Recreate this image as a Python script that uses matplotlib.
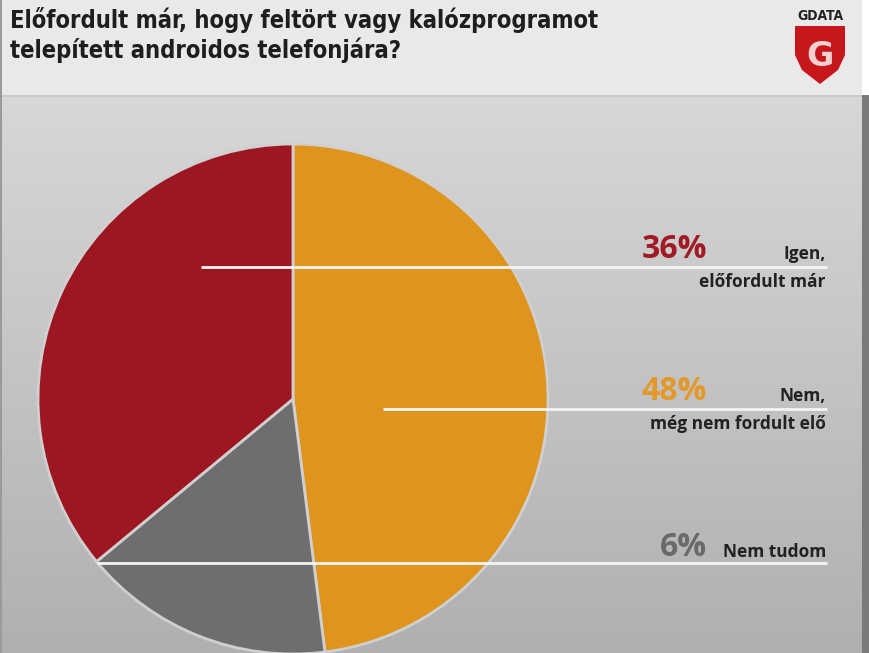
import matplotlib
matplotlib.use("Agg")
import matplotlib.pyplot as plt
import numpy as np
from matplotlib.patches import Polygon

# ---- data ----
categories = ["Nem, még nem fordult elő", "Nem tudom", "Igen, előfordult már"]
values = [48, 16, 36]                     # wedge sizes as drawn
colors = ["#de941d", "#6e6e70", "#9c1721"]
pct_labels = ["36%", "48%", "6%"]
label_line1 = ["Igen,", "Nem,", "Nem tudom"]
label_line2 = ["előfordult már", "még nem fordult elő", ""]
pct_colors = ["#a11b25", "#e3992a", "#6a6a6a"]
title_lines = ["Előfordult már, hogy feltört vagy kalózprogramot",
               "telepített androidos telefonjára?"]

W, H = 870, 653
fig = plt.figure(figsize=(W / 100, H / 100), dpi=100)
ax = fig.add_axes([0, 0, 1, 1])
ax.set_xlim(0, W)
ax.set_ylim(0, H)
ax.set_aspect("equal")
ax.axis("off")

def py(y):  # pixel y (top origin) -> data y
    return H - y

# background gradient below header
grad = np.linspace(0, 1, 256)[:, None]
c_top = np.array([0.845, 0.845, 0.85])
c_bot = np.array([0.69, 0.69, 0.695])
img = c_top[None, None, :] * (1 - grad[:, :, None]) + c_bot[None, None, :] * grad[:, :, None]
ax.imshow(img, extent=[0, W, py(H), py(95)], aspect="auto", zorder=0, origin="upper")
# header
ax.fill_between([0, W], py(95), py(0), color="#e9e9e9", zorder=0.5, lw=0)
ax.fill_between([0, W], py(97), py(95), color="#c9c9c9", zorder=0.6, lw=0)
# side borders
ax.fill_between([862, W], 0, py(95), color="#7a7a7a", zorder=0.7, lw=0)
ax.fill_between([862, W], py(95), H, color="#ffffff", zorder=0.7, lw=0)
ax.fill_between([0, 2], 0, H, color="#9a9a9a", zorder=0.7, lw=0)

# pie
cx, cy, r = 293, py(399), 255
ax.pie(values, colors=colors, startangle=90, counterclock=False,
       center=(cx, cy), radius=r, frame=True,
       wedgeprops=dict(edgecolor="#d0d0d0", linewidth=2))
ax.set_xlim(0, W)
ax.set_ylim(0, H)
ax.axis("off")

# leader lines
line_y = [267, 409, 563]
line_x0 = [201, 383, 97]
for ly, lx in zip(line_y, line_x0):
    ax.plot([lx, 827], [py(ly), py(ly)], color="#f4f4f4", lw=2, zorder=5,
            solid_capstyle="butt")

# labels
pct_base = [258, 400, 556]
for i in range(3):
    ax.text(707, py(pct_base[i]), pct_labels[i], color=pct_colors[i],
            fontsize=23, fontweight="bold", family="Open Sans",
            ha="right", va="baseline", zorder=6)
    ax.text(826, py(pct_base[i] + 1), label_line1[i], color="#222222",
            fontsize=12.5, fontweight="bold", family="Open Sans",
            ha="right", va="baseline", zorder=6)
    if label_line2[i]:
        ax.text(826, py(pct_base[i] + 29), label_line2[i], color="#222222",
                fontsize=12.5, fontweight="bold", family="Open Sans",
                ha="right", va="baseline", zorder=6)

# title (condensed look)
ax.text(10, py(28), title_lines[0], fontsize=17, fontweight="bold",
        family="DejaVu Sans", stretch="condensed", color="#1e1e1e",
        ha="left", va="baseline", zorder=6)
ax.text(10, py(58), title_lines[1], fontsize=17, fontweight="bold",
        family="DejaVu Sans", stretch="condensed", color="#1e1e1e",
        ha="left", va="baseline", zorder=6)

# logo
ax.text(820, py(20), "GDATA", fontsize=10, fontweight="bold",
        family="DejaVu Sans", stretch="condensed", color="#222222",
        ha="center", va="baseline", zorder=6)
shield = [(795, 26), (845, 26), (845, 55), (838, 70), (820, 84), (802, 70), (795, 55)]
ax.add_patch(Polygon([(x, py(y)) for x, y in shield], closed=True,
                     facecolor="#c8161d", edgecolor="none", zorder=6))
ax.text(820, py(66), "G", fontsize=24, fontweight="bold", family="DejaVu Sans",
        color="#f5d0d0", ha="center", va="baseline", zorder=7)

fig.savefig("out.png", dpi=100)
